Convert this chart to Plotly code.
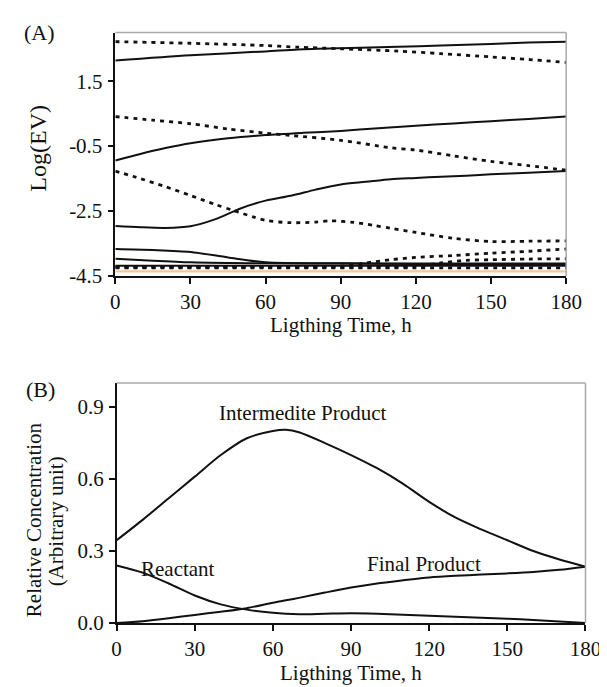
import plotly.graph_objects as go

# ---------------- Panel A data: Log(EV) vs lighting time ----------------
a_s1_x = [0, 30, 60, 73, 90, 113, 130, 150, 165, 180]
a_s1_y = [2.14, 2.30, 2.42, 2.48, 2.52, 2.56, 2.60, 2.65, 2.69, 2.72]

a_d1_x = [0, 30, 60, 73, 90, 113, 130, 150, 165, 180]
a_d1_y = [2.72, 2.67, 2.60, 2.55, 2.50, 2.43, 2.35, 2.25, 2.17, 2.08]

a_s2_x = [0, 10, 20, 30, 45, 60, 75, 90, 105, 120, 135, 150, 165, 180]
a_s2_y = [-0.94, -0.74, -0.56, -0.41, -0.26, -0.16, -0.09, -0.03, 0.05, 0.13, 0.20, 0.27, 0.34, 0.41]

a_d2_x = [0, 15, 30, 45, 60, 70, 90, 110, 120, 135, 150, 165, 180]
a_d2_y = [0.41, 0.30, 0.19, 0.03, -0.10, -0.17, -0.32, -0.55, -0.62, -0.80, -0.97, -1.10, -1.24]

a_s3_x = [0, 10, 20, 30, 40, 50, 60, 70, 80, 90, 100, 110, 120, 130, 140, 150, 165, 180]
a_s3_y = [-2.96, -3.00, -3.02, -2.97, -2.75, -2.42, -2.18, -2.03, -1.84, -1.68, -1.60, -1.52, -1.48, -1.44, -1.41, -1.37, -1.32, -1.27]

a_d3_x = [0, 10, 20, 30, 40, 47, 55, 60, 70, 80, 86, 95, 103, 110, 120, 135, 150, 165, 180]
a_d3_y = [-1.27, -1.50, -1.75, -2.02, -2.30, -2.48, -2.68, -2.79, -2.86, -2.84, -2.80, -2.85, -2.94, -3.03, -3.16, -3.34, -3.44, -3.43, -3.42]

a_s4_x = [0, 15, 30, 45, 60, 90, 120, 150, 180]
a_s4_y = [-3.67, -3.70, -3.76, -3.93, -4.08, -4.11, -4.12, -4.12, -4.12]

a_s5_x = [0, 15, 30, 45, 60, 90, 120, 150, 180]
a_s5_y = [-3.97, -4.03, -4.08, -4.10, -4.11, -4.12, -4.13, -4.13, -4.13]

a_s6_x = [0, 60, 120, 180]
a_s6_y = [-4.19, -4.19, -4.19, -4.19]

a_d4_x = [0, 30, 60, 90, 100, 110, 120, 135, 150, 165, 180]
a_d4_y = [-4.22, -4.22, -4.22, -4.20, -4.10, -4.00, -3.93, -3.87, -3.80, -3.74, -3.67]

a_d5_x = [0, 60, 120, 130, 140, 150, 165, 180]
a_d5_y = [-4.22, -4.22, -4.20, -4.10, -4.02, -4.00, -3.98, -3.97]

a_d6_x = [0, 60, 120, 180]
a_d6_y = [-4.25, -4.25, -4.25, -4.25]

a_or_x = [0, 60, 120, 180]
a_or_y = [-4.36, -4.36, -4.36, -4.36]

a_xticks = [0, 30, 60, 90, 120, 150, 180]
a_yticks = [1.5, -0.5, -2.5, -4.5]
a_yticktext = ["1.5", "-0.5", "-2.5", "-4.5"]

# ---------------- Panel B data: relative concentration ----------------
b_x = [0, 10, 20, 30, 40, 50, 60, 65, 70, 80, 90, 100, 110, 120, 130, 140, 150, 160, 170, 180]
b_inter = [0.345, 0.43, 0.52, 0.61, 0.70, 0.77, 0.80, 0.805, 0.795, 0.75, 0.70, 0.645, 0.58,
           0.505, 0.44, 0.39, 0.345, 0.30, 0.265, 0.235]
b_react = [0.24, 0.21, 0.165, 0.115, 0.078, 0.056, 0.043, 0.039, 0.037, 0.039, 0.041, 0.039, 0.035,
           0.030, 0.026, 0.022, 0.018, 0.013, 0.007, 0.0]
b_final = [0.0, 0.008, 0.02, 0.034, 0.047, 0.062, 0.085, 0.095, 0.105, 0.127, 0.148, 0.165, 0.178,
           0.19, 0.197, 0.202, 0.207, 0.213, 0.222, 0.235]
b_xticks = [0, 30, 60, 90, 120, 150, 180]
b_yticks = [0.0, 0.3, 0.6, 0.9]
b_yticktext = ["0.0", "0.3", "0.6", "0.9"]

FONT = "Liberation Serif"
BLACK = "#111111"
DOT = "4px,5px"

fig = go.Figure()

def add_a(x, y, dotted=False, color=BLACK, width=None):
    fig.add_trace(go.Scatter(
        x=x, y=y, mode="lines", xaxis="x", yaxis="y",
        line=dict(color=color, width=width or (2.8 if dotted else 2.0),
                  dash=DOT if dotted else "solid", shape="spline", smoothing=0.8),
        showlegend=False, hoverinfo="skip"))

add_a(a_or_x, a_or_y, color="#f8c594", width=2.2)
add_a(a_d6_x, a_d6_y, dotted=True)
add_a(a_s6_x, a_s6_y)
add_a(a_d5_x, a_d5_y, dotted=True)
add_a(a_d4_x, a_d4_y, dotted=True)
add_a(a_s5_x, a_s5_y)
add_a(a_s4_x, a_s4_y)
add_a(a_d3_x, a_d3_y, dotted=True)
add_a(a_s3_x, a_s3_y)
add_a(a_d2_x, a_d2_y, dotted=True)
add_a(a_s2_x, a_s2_y)
add_a(a_d1_x, a_d1_y, dotted=True)
add_a(a_s1_x, a_s1_y)

for yy in (b_inter, b_react, b_final):
    fig.add_trace(go.Scatter(
        x=b_x, y=yy, mode="lines", xaxis="x2", yaxis="y2",
        line=dict(color=BLACK, width=2.0, shape="spline", smoothing=0.8),
        showlegend=False, hoverinfo="skip"))

W, H = 607, 687
ax_common = dict(showgrid=False, zeroline=False, showline=True, linecolor=BLACK, linewidth=1.5,
                 ticks="outside", ticklen=6, tickwidth=1.5, tickcolor=BLACK,
                 tickfont=dict(family=FONT, size=21, color=BLACK), mirror=False)

A_dom_x = [106 / W, 573 / W]
A_dom_y = [1 - 272.7 / H, 1 - 25 / H]
B_dom_x = [107.3 / W, 593 / W]
B_dom_y = [1 - 626 / H, 1 - 381.7 / H]

fig.update_layout(
    width=W, height=H, margin=dict(l=0, r=0, t=0, b=0),
    paper_bgcolor="white", plot_bgcolor="white",
    font=dict(family=FONT, color=BLACK),
    xaxis=dict(domain=A_dom_x, anchor="y", range=[0, 180], tickvals=a_xticks, **ax_common),
    yaxis=dict(domain=A_dom_y, anchor="x", range=[-4.5, 3.0], tickvals=a_yticks,
               ticktext=a_yticktext, ticklabelstandoff=1, **ax_common),
    xaxis2=dict(domain=B_dom_x, anchor="y2", range=[0, 180], tickvals=b_xticks, **ax_common),
    yaxis2=dict(domain=B_dom_y, anchor="x2", range=[0, 1.0], tickvals=b_yticks,
                ticktext=b_yticktext, ticklabelstandoff=1, **ax_common),
)

# grey top/right frame lines
GREY = "#a8a8a8"
for (dx, dy) in ((A_dom_x, A_dom_y), (B_dom_x, B_dom_y)):
    fig.add_shape(type="line", xref="paper", yref="paper", x0=dx[0], x1=dx[1], y0=dy[1], y1=dy[1],
                  line=dict(color=GREY, width=1.5))
    fig.add_shape(type="line", xref="paper", yref="paper", x0=dx[1], x1=dx[1], y0=dy[0], y1=dy[1],
                  line=dict(color=GREY, width=1.5))

def ann(text, x, y, size=21, angle=0, xref="paper", yref="paper"):
    fig.add_annotation(text=text, x=x, y=y, xref=xref, yref=yref, showarrow=False,
                       textangle=angle, xanchor="center", yanchor="middle",
                       font=dict(family=FONT, size=size, color=BLACK))

ann("(A)", 27 / W, 1 - 25 / H, size=22)
ann("(B)", 28 / W, 1 - 388 / H, size=22)
ann("Log(EV)", 25 / W, 1 - 143 / H, size=24, angle=-90)
ann("Ligthing Time, h", (106 + 573) / 2 / W, 1 - 323 / H)
ann("Ligthing Time, h", (107.3 + 593) / 2 / W, 1 - 677 / H)
ann("Relative Concentration", 22 / W, 1 - 521 / H, angle=-90)
ann("(Arbitrary unit)", 44 / W, 1 - 522 / H, angle=-90)

ann("Intermedite Product", 71.4, 0.876, xref="x2", yref="y2")
ann("Reactant", 23.6, 0.225, xref="x2", yref="y2")
ann("Final Product", 118, 0.245, xref="x2", yref="y2")

fig.write_html("out.html")
